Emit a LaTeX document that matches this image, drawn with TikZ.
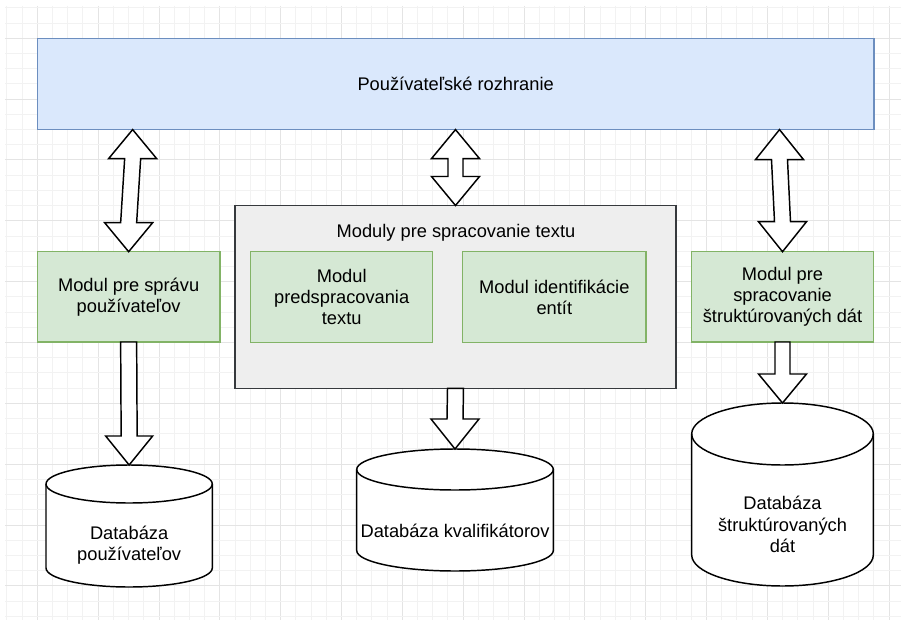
\documentclass[tikz,border=0pt]{standalone}
\usepackage{fontspec}
\setmainfont{Liberation Sans}
\usetikzlibrary{calc}

\definecolor{uifill}{HTML}{DAE8FC}
\definecolor{uiline}{HTML}{6C8EBF}
\definecolor{modfill}{HTML}{D5E8D4}
\definecolor{modline}{HTML}{82B366}
\definecolor{grpfill}{HTML}{EEEEEE}
\definecolor{grpline}{HTML}{36393D}
\definecolor{gridminor}{HTML}{F2F2F2}
\definecolor{gridmajor}{HTML}{E4E4E4}

\tikzset{
  lbl/.style={font=\fontsize{13.7pt}{16pt}\selectfont, align=center, text=black},
  sized/.style 2 args={minimum width=#1*0.75pt, minimum height=#2*0.75pt},
  box/.style={lbl, inner sep=0pt, outer sep=0pt, line width=1.1pt},
  uibox/.style={box, draw=uiline, fill=uifill},
  modbox/.style={box, draw=modline, fill=modfill},
  grpbox/.style={box, draw=grpline, fill=grpfill},
  dbholder/.style={inner sep=0pt, outer sep=0pt},
  blockarrow/.style={draw=black, fill=white, line width=1.1pt, line join=miter},
  dbline/.style={draw=black, fill=white, line width=1.1pt},
}

% two-headed block arrow: #1 upper tip, #2 lower tip, #3 half shaft width,
% #4 half head width, #5 head length
\newcommand{\twowayarrow}[5]{%
  \draw[blockarrow] (#1) -- ($(#1)+(#4,#5)$) -- ($(#1)+(#3,#5)$)
    -- ($(#2)+(#3,-#5)$) -- ($(#2)+(#4,-#5)$) -- (#2)
    -- ($(#2)+(-#4,-#5)$) -- ($(#2)+(-#3,-#5)$)
    -- ($(#1)+(-#3,#5)$) -- ($(#1)+(-#4,#5)$) -- cycle;}

% one-headed block arrow pointing down: #1 start, #2 tip
\newcommand{\downarrowblk}[5]{%
  \draw[blockarrow] ($(#1)+(-#3,0)$) -- ($(#2)+(-#3,-#5)$) -- ($(#2)+(-#4,-#5)$)
    -- (#2) -- ($(#2)+(#4,-#5)$) -- ($(#2)+(#3,-#5)$) -- ($(#1)+(#3,0)$) -- cycle;}

% database cylinder around node #1: #2 ellipse y radius, #3 x radius
\newcommand{\dbcylinder}[3]{%
  \draw[dbline] ($(#1.north west)+(0,#2)$) -- ($(#1.south west)+(0,-#2)$)
    arc[start angle=180, end angle=0, x radius=#3, y radius=#2]
    -- ($(#1.north east)+(0,#2)$)
    arc[start angle=0, end angle=-180, x radius=#3, y radius=#2] -- cycle;
  \draw[dbline, fill=none] ($(#1.north west)+(0,#2)$)
    arc[start angle=180, end angle=0, x radius=#3, y radius=#2];}

\begin{document}
\begin{tikzpicture}[x=0.75pt, y=-0.75pt]
  \useasboundingbox (0,0) rectangle (906,624);
  \fill[white] (0,0) rectangle (906,624);

  % background grid
  \foreach \k in {0,...,58}{
    \pgfmathsetmacro{\gx}{6.9+\k*15.21}
    \pgfmathtruncatemacro{\gm}{mod(\k,4)}
    \ifnum\gm=2 \def\gc{gridmajor}\else\def\gc{gridminor}\fi
    \draw[\gc, line width=0.75pt] (\gx,6) -- (\gx,620);
  }
  \foreach \k in {0,...,40}{
    \pgfmathsetmacro{\gy}{7.9+\k*15.21}
    \pgfmathtruncatemacro{\gm}{mod(\k,4)}
    \ifnum\gm=2 \def\gc{gridmajor}\else\def\gc{gridminor}\fi
    \draw[\gc, line width=0.75pt] (5,\gy) -- (901,\gy);
  }

  % user interface
  \node[uibox, sized={836.7}{91.3}] (ui) at (455.65,83.95) {Používateľské rozhranie};

  % modules
  \node[modbox, sized={182.7}{90.3}] (usr) at (128.65,296.85) {Modul pre správu\\používateľov};
  \node[grpbox, sized={441}{182.8}] (proc) at (455.5,296.9) {};
  \node[lbl] (proctitle) at (456,233) {Moduly pre spracovanie textu};
  \node[modbox, sized={182}{90.8}] (pre) at (341.7,297.1) {Modul\\predspracovania\\textu};
  \node[modbox, sized={183.3}{90.8}] (ent) at (554.35,297.1) {Modul identifikácie\\entít};
  \node[modbox, sized={181.6}{90.3}] (struct) at (782.5,296.85) {Modul pre\\spracovanie\\štruktúrovaných dát};

  % databases
  \node[dbholder, sized={166.3}{122}] (dbu) at (129.15,526) {};
  \node[dbholder, sized={196.6}{122}] (dbk) at (455,510) {};
  \node[dbholder, sized={181.6}{183}] (dbs) at (782.5,494.5) {};
  \dbcylinder{dbu}{19}{83.15}
  \dbcylinder{dbk}{20.5}{98.3}
  \dbcylinder{dbs}{31}{90.8}
  \node[lbl] (dbutext) at ($(dbu.center)+(0,19)$) {Databáza\\používateľov};
  \node[lbl] (dbktext) at ($(dbk.center)+(0,20.5)$) {Databáza kvalifikátorov};
  \node[lbl] (dbstext) at ($(dbs.center)+(0,30)$) {Databáza\\štruktúrovaných\\dát};

  % two-way connections to the user interface
  \coordinate (t1) at ($(ui.south -| usr.north)+(4,0)$);
  \coordinate (t2) at (ui.south -| proc.north);
  \coordinate (t3) at ($(ui.south -| struct.north)+(-3,0)$);
  \twowayarrow{t1}{usr.north}{8}{24}{29}
  \twowayarrow{t2}{proc.north}{7.5}{24}{29}
  \twowayarrow{t3}{struct.north}{8}{24}{30}

  % storage connections
  \downarrowblk{usr.south}{dbu.north}{8}{23.5}{29}
  \downarrowblk{proc.south}{dbk.north}{8}{24}{30}
  \downarrowblk{struct.south}{dbs.north}{7.5}{24}{29}
\end{tikzpicture}
\end{document}
